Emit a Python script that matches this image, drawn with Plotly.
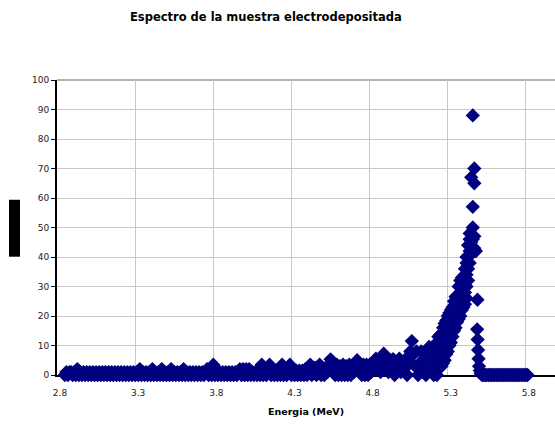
import plotly.graph_objects as go

# ---------------- data ----------------
# background channels: 2.85 MeV .. 5.20 MeV, one channel every 0.01 MeV
energia_inicio_fondo = 2.85
paso_fondo = 0.01
cuentas_fondo = [
    0, 1, 0, 1, 1, 0, 1, 0, 2, 0, 1, 0, 1, 0, 1, 0, 1, 0, 1, 0,          # 2.85-3.04
    1, 0, 1, 0, 1, 0, 1, 0, 1, 0, 1, 0, 1, 0, 1, 0, 1, 0, 1, 0,          # 3.05-3.24
    1, 0, 1, 0, 1, 0, 1, 0, 2, 0, 1, 0, 1, 0, 1, 0, 2, 0, 1, 0,          # 3.25-3.44
    1, 0, 2, 0, 1, 0, 1, 0, 2, 0, 1, 0, 1, 0, 1, 0, 2, 0, 1, 0,          # 3.45-3.64
    1, 0, 1, 0, 1, 0, 1, 0, 1, 0, 1, 2, 0, 2, 0, 3.5, 0, 2, 0, 1,        # 3.65-3.84
    0, 1, 0, 1, 0, 1, 0, 1, 0, 1, 0, 1, 2, 0, 2, 0, 2, 0, 2, 0,          # 3.85-4.04
    1, 0, 1, 0, 2, 0, 3.5, 0, 2, 0, 2, 3.5, 0, 1.5, 0, 1.5, 0, 2, 0, 3.5,  # 4.05-4.24
    0, 2, 0, 2, 3.5, 0, 2, 0, 1.5, 0, 1.5, 0, 1.5, 0, 2, 0, 2, 3.5, 0, 2,  # 4.25-4.44
    2.5, 0, 2, 3.5, 0, 2.5, 0, 2.5, 1, 3, 5.3, 2, 3, 0, 3.5, 0, 3, 0, 3.5, 0,  # 4.45-4.64
    3, 0, 3.5, 0, 3, 1, 4, 5, 2, 3, 0, 3.5, 0, 3.5, 0, 3.5, 1, 4, 2, 5.5,  # 4.65-4.84
    3, 5, 1, 6, 7.2, 3, 6, 1, 5, 2, 5.4, 0, 4, 2, 5.5, 1, 4, 2, 5.4, 0,  # 4.85-5.04
    4, 8, 11.5, 7, 3, 8, 0, 4, 8, 1, 5, 0, 5, 9.5, 3, 7,                # 5.05-5.20
]

# peak region: several readings per energy
energia_pico = [5.21, 5.22, 5.23, 5.24, 5.25, 5.26, 5.27, 5.28, 5.29, 5.30,
                5.31, 5.32, 5.33, 5.34, 5.35, 5.36, 5.37, 5.38, 5.39, 5.40,
                5.41, 5.42, 5.43, 5.44, 5.45, 5.46, 5.47, 5.48]
cuentas_pico = [
    [0, 4, 9], [1, 5, 10], [0, 4, 8, 11], [2, 6, 10, 13], [3, 7, 11, 13.5],
    [3, 7, 11, 14], [4, 8, 12, 16], [5, 9, 13, 17.5], [7, 11, 15, 18.5], [8, 12, 16, 20],
    [10, 14, 18, 21], [11, 15, 19, 22], [13, 17, 21, 23], [15, 19, 23, 25], [16, 20, 24, 26.5],
    [18, 22, 26, 27], [19, 23, 27, 30], [20, 24, 28, 32], [22, 26, 30, 33], [23, 27, 31, 33.5],
    [24, 28, 32, 36], [26, 30, 34, 38, 40], [32, 36, 40, 44], [38, 42, 46, 48],
    [41, 45, 67], [42, 46, 50, 57, 88], [43, 47, 65, 70], [42],
]

# falling edge of the peak
energia_cola = [5.490, 5.488, 5.491, 5.494, 5.497, 5.500, 5.505, 5.510, 5.520]
cuentas_cola = [25.5, 15.5, 12, 8.5, 5.5, 3, 1.5, 0.5, 0]

# empty channels after the peak: 5.53 .. 5.81 MeV
energia_inicio_ceros = 5.53
paso_ceros = 0.01
cuentas_ceros = [0, 0, 0, 0, 0, 0, 0, 0, 0, 0,
                 0, 0, 0, 0, 0, 0, 0, 0, 0, 0,
                 0, 0, 0, 0, 0, 0, 0, 0, 0]

x_ticks_inicio = 2.8
x_ticks_paso = 0.5

# ---------------- assemble ----------------
energia_fondo = [round(energia_inicio_fondo + i * paso_fondo, 3) for i in range(len(cuentas_fondo))]
energia_ceros = [round(energia_inicio_ceros + i * paso_ceros, 3) for i in range(len(cuentas_ceros))]

xs, ys = [], []
xs += energia_fondo
ys += cuentas_fondo
for e, cs in zip(energia_pico, cuentas_pico):
    for c in cs:
        xs.append(e)
        ys.append(c)
xs += energia_cola
ys += cuentas_cola
xs += energia_ceros
ys += cuentas_ceros

FONT = "Liberation Sans, Arial, sans-serif"
WIDE = "DejaVu Sans, Liberation Sans, sans-serif"

fig = go.Figure()
fig.add_trace(go.Scatter(
    x=xs, y=ys, mode="markers",
    marker=dict(symbol="diamond", size=11, color="#000080", line=dict(width=0)),
    cliponaxis=False, showlegend=False, hoverinfo="x+y",
))

fig.update_layout(
    template="none",
    width=555, height=425,
    margin=dict(l=57, r=0, t=80, b=50),
    paper_bgcolor="white", plot_bgcolor="white",
    showlegend=False,
    title=dict(
        text="Espectro de la muestra electrodepositada",
        font=dict(family=WIDE, size=11.5, color="black", weight="bold"),
        x=0.479, xref="container", xanchor="center",
        y=1 - 17 / 425, yref="container", yanchor="middle",
    ),
    shapes=[
        dict(type="line", xref="paper", yref="paper", x0=0, x1=1, y0=1, y1=1,
             line=dict(color="#9a9a9a", width=1.5), layer="below"),
        dict(type="rect", xref="paper", yref="paper", x0=-0.0964, x1=-0.0743,
             y0=0.401, y1=0.594, fillcolor="black", line=dict(width=0)),
    ],
)

fig.update_xaxes(
    range=[2.8, 5.986],
    tick0=x_ticks_inicio, dtick=x_ticks_paso, tickformat=".1f",
    showgrid=True, gridcolor="#c8c8c8", gridwidth=1,
    showline=True, linecolor="black", linewidth=2,
    ticks="", zeroline=False, layer="below traces",
    ticklabelstandoff=8, ticklabelshift=3,
    tickfont=dict(family=WIDE, size=9, color="#222222"),
    title=dict(text="Energia (MeV)", standoff=12,
               font=dict(family=WIDE, size=9.5, color="black", weight="bold")),
    automargin=False,
)
fig.update_yaxes(
    range=[0, 100], tick0=0, dtick=10,
    showgrid=True, gridcolor="#c8c8c8", gridwidth=1,
    showline=True, linecolor="black", linewidth=2,
    ticks="outside", ticklen=4, tickcolor="black", tickwidth=1,
    zeroline=False, layer="below traces",
    tickfont=dict(family=WIDE, size=9, color="#222222"),
    automargin=False,
)

fig.write_html(
    "out.html",
    config={"displayModeBar": False},
    post_script="document.body.style.margin='0';document.body.style.padding='0';"
                "document.body.style.overflow='hidden';",
)
